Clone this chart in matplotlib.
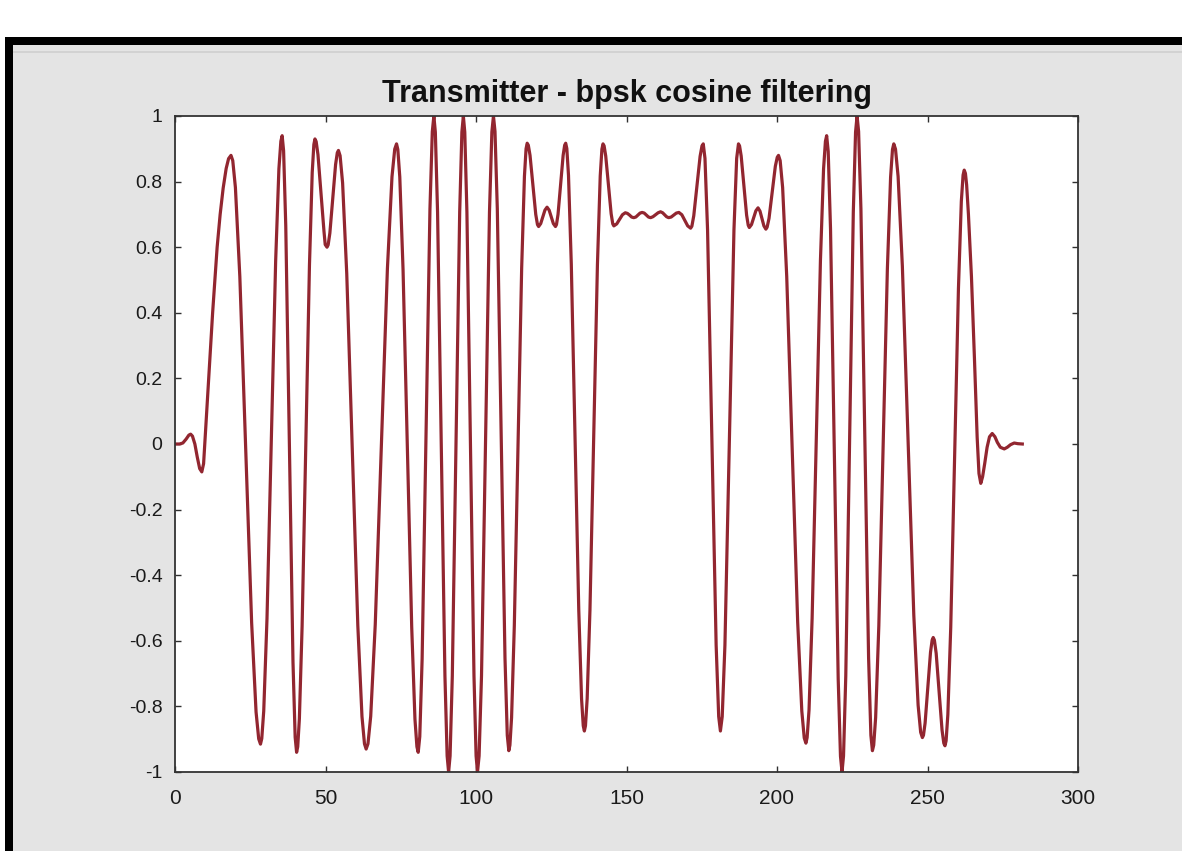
import matplotlib
matplotlib.use("Agg")
import matplotlib.pyplot as plt
from matplotlib.patches import Rectangle

# (sample index, amplitude)
curve_points = [
    (0, 0), (1.5, 0.0), (2.6, 0.003), (3.7, 0.015), (4.6, 0.027), (5.2, 0.03), (5.8, 0.024),
    (6.6, 0.0), (7.4, -0.04), (8.2, -0.075), (8.9, -0.085), (9.5, -0.06), (10.3, 0.06),
    (11.0, 0.17), (12.5, 0.40), (14.0, 0.60), (15.0, 0.70), (16.0, 0.78), (17.0, 0.84),
    (17.8, 0.87), (18.6, 0.88),
    (19.19, 0.864), (20.07, 0.782), (21.54, 0.51), (23.5, -0.018), (25.46, -0.545), (26.93, -0.817), (27.81, -0.899),
    (28.4, -0.915),
    (28.83, -0.898), (29.48, -0.814), (30.56, -0.533), (32.0, 0.013), (33.44, 0.558), (34.52, 0.839), (35.17, 0.923),
    (35.6, 0.94),
    (36.08, 0.894), (36.8, 0.665), (38.0, 0.0), (39.2, -0.665), (39.92, -0.894),
    (40.4, -0.94),
    (40.77, -0.923), (41.32, -0.838), (42.23, -0.555), (43.45, -0.005), (44.67, 0.545), (45.59, 0.828), (46.13, 0.913),
    (46.5, 0.93),
    (46.9, 0.922), (47.5, 0.882), (48.5, 0.765), (49.5, 0.648), (49.9, 0.608),
    (50.5, 0.60),
    (50.88, 0.607), (51.45, 0.643), (52.4, 0.748), (53.35, 0.852), (53.92, 0.888),
    (54.3, 0.895),
    (54.85, 0.879), (55.68, 0.796), (57.06, 0.519), (58.9, -0.018), (60.74, -0.554), (62.12, -0.831), (62.95, -0.914),
    (63.5, -0.93),
    (64.11, -0.914), (65.02, -0.83), (66.53, -0.55), (68.55, -0.008), (70.57, 0.535), (72.09, 0.815), (73.0, 0.899),
    (73.6, 0.915),
    (74.03, 0.898), (74.68, 0.814), (75.76, 0.533), (77.2, -0.013), (78.64, -0.558), (79.72, -0.839), (80.37, -0.923),
    (80.8, -0.94),
    (81.32, -0.892), (82.1, -0.656), (83.4, 0.03), (84.7, 0.716), (85.48, 0.952),
    (86.0, 1.0),
    (86.49, 0.951), (87.23, 0.707), (88.45, 0.0), (89.68, -0.707), (90.41, -0.951),
    (90.9, -1.0),
    (91.39, -0.951), (92.13, -0.707), (93.35, 0.0), (94.58, 0.707), (95.31, 0.951),
    (95.8, 1.0),
    (96.27, 0.951), (96.98, 0.707), (98.15, 0.0), (99.33, -0.707), (100.03, -0.951),
    (100.5, -1.0),
    (101.03, -0.951), (101.83, -0.707), (103.15, 0.0), (104.48, 0.707), (105.27, 0.951),
    (105.8, 1.0),
    (106.31, 0.953), (107.08, 0.717), (108.35, 0.033), (109.63, -0.652), (110.39, -0.888),
    (110.9, -0.935),
    (111.27, -0.918), (111.82, -0.834), (112.73, -0.554), (113.95, -0.009), (115.17, 0.536), (116.09, 0.816), (116.63, 0.9),
    (117.0, 0.917),
    (117.38, 0.911), (117.95, 0.88), (118.9, 0.79), (119.85, 0.70), (120.42, 0.669),
    (120.8, 0.663), (121.5, 0.672), (122.2, 0.692), (122.9, 0.713),
    (123.6, 0.722), (124.3, 0.713), (125.0, 0.692), (125.7, 0.672),
    (126.4, 0.663),
    (126.74, 0.669), (127.25, 0.70), (128.1, 0.79), (128.95, 0.88), (129.46, 0.911),
    (129.8, 0.917),
    (130.17, 0.901), (130.73, 0.819), (131.66, 0.548), (132.9, 0.021), (134.14, -0.506), (135.07, -0.777), (135.63, -0.859),
    (136.0, -0.875),
    (136.37, -0.859), (136.93, -0.777), (137.86, -0.506), (139.1, 0.02), (140.34, 0.546), (141.27, 0.817), (141.83, 0.899),
    (142.2, 0.915),
    (142.56, 0.909), (143.1, 0.878), (144.0, 0.79), (144.9, 0.702), (145.44, 0.671),
    (145.8, 0.665), (146.75, 0.671), (147.7, 0.685), (148.65, 0.699),
    (149.6, 0.705), (150.3, 0.703), (151.0, 0.698), (151.7, 0.692),
    (152.4, 0.69), (153.1, 0.692), (153.8, 0.698), (154.5, 0.704),
    (155.2, 0.706), (155.9, 0.704), (156.6, 0.698), (157.3, 0.692),
    (158.0, 0.69), (158.8, 0.693), (159.65, 0.699), (160.5, 0.705),
    (161.3, 0.708), (162.0, 0.705), (162.65, 0.699), (163.3, 0.693),
    (164.0, 0.69), (164.85, 0.692), (165.7, 0.698), (166.55, 0.704),
    (167.4, 0.706), (168.38, 0.699), (169.35, 0.682), (170.33, 0.665),
    (171.3, 0.658),
    (171.72, 0.664), (172.35, 0.696), (173.4, 0.787), (174.45, 0.877), (175.08, 0.909),
    (175.5, 0.915),
    (176.07, 0.871), (176.93, 0.653), (178.35, 0.02), (179.78, -0.613), (180.63, -0.831),
    (181.2, -0.875),
    (181.8, -0.831), (182.7, -0.613), (184.2, 0.02), (185.7, 0.653), (186.6, 0.871),
    (187.2, 0.915),
    (187.56, 0.909), (188.1, 0.878), (189.0, 0.788), (189.9, 0.698), (190.44, 0.667),
    (190.8, 0.66), (191.53, 0.669), (192.25, 0.69), (192.98, 0.711),
    (193.7, 0.72), (194.35, 0.71), (195.0, 0.688), (195.65, 0.665),
    (196.3, 0.655),
    (196.72, 0.661), (197.35, 0.688), (198.4, 0.768), (199.45, 0.847), (200.08, 0.874),
    (200.5, 0.88),
    (201.05, 0.864), (201.87, 0.782), (203.23, 0.511), (205.05, -0.016), (206.87, -0.543), (208.24, -0.814), (209.05, -0.896),
    (209.6, -0.912),
    (210.01, -0.895), (210.64, -0.811), (211.67, -0.531), (213.05, 0.014), (214.43, 0.559), (215.47, 0.839), (216.09, 0.923),
    (216.5, 0.94),
    (217.01, 0.892), (217.78, 0.656), (219.05, -0.03), (220.33, -0.716), (221.09, -0.952),
    (221.6, -1.0),
    (222.1, -0.951), (222.85, -0.707), (224.1, 0.0), (225.35, 0.707), (226.1, 0.951),
    (226.6, 1.0),
    (227.11, 0.953), (227.88, 0.717), (229.15, 0.033), (230.43, -0.652), (231.19, -0.888),
    (231.7, -0.935),
    (232.13, -0.918), (232.77, -0.834), (233.83, -0.554), (235.25, -0.01), (236.67, 0.534), (237.74, 0.814), (238.37, 0.898),
    (238.8, 0.915),
    (239.37, 0.899), (240.23, 0.816), (241.65, 0.542), (243.55, 0.01), (245.45, -0.522), (246.88, -0.796), (247.73, -0.879),
    (248.3, -0.895),
    (248.66, -0.888), (249.2, -0.851), (250.1, -0.743), (251.0, -0.635), (251.54, -0.598),
    (251.9, -0.59),
    (252.29, -0.598), (252.88, -0.638), (253.85, -0.755), (254.83, -0.872), (255.41, -0.912),
    (255.8, -0.92),
    (256.18, -0.905), (256.76, -0.825), (257.72, -0.559), (259.0, -0.043), (260.28, 0.474), (261.24, 0.74), (261.82, 0.82),
    (262.2, 0.835),
    (262.6, 0.825), (263.0, 0.79), (263.6, 0.70), (264.6, 0.51), (265.6, 0.26), (266.5, 0.02), (267.1, -0.09),
    (267.7, -0.12), (268.3, -0.10), (269.0, -0.06), (269.8, -0.01), (270.6, 0.022), (271.5, 0.032),
    (272.4, 0.022), (273.2, 0.005), (274.2, -0.01), (275.5, -0.015), (276.5, -0.01), (277.6, -0.002),
    (278.8, 0.003), (280.0, 0.001), (281.5, 0.0),
]
sample_idx = [p[0] for p in curve_points]
amplitude = [p[1] for p in curve_points]

x_ticks = [0, 50, 100, 150, 200, 250, 300]
y_ticks = [-1, -0.8, -0.6, -0.4, -0.2, 0, 0.2, 0.4, 0.6, 0.8, 1]
y_labels = ["-1", "-0.8", "-0.6", "-0.4", "-0.2", "0", "0.2", "0.4", "0.6", "0.8", "1"]

plt.rcParams["font.family"] = ["Liberation Sans", "DejaVu Sans"]

W, H = 1182, 851
fig = plt.figure(figsize=(W / 100, H / 100), dpi=100, facecolor="#e4e4e4")

# screenshot frame: white strip on top, black window border, toolbar line
fig.patches.append(Rectangle((0, 1 - 37 / H), 1, 37 / H, transform=fig.transFigure,
                             facecolor="white", edgecolor="none", zorder=0))
fig.patches.append(Rectangle((0, 0), 5 / W, 1 - 37 / H, transform=fig.transFigure,
                             facecolor="white", edgecolor="none", zorder=0))
fig.patches.append(Rectangle((5 / W, 1 - 45 / H), 1, 8 / H, transform=fig.transFigure,
                             facecolor="black", edgecolor="none", zorder=1))
fig.patches.append(Rectangle((5 / W, 0), 8 / W, 1 - 37 / H, transform=fig.transFigure,
                             facecolor="black", edgecolor="none", zorder=1))
fig.patches.append(Rectangle((13 / W, 1 - 53 / H), 1, 2 / H, transform=fig.transFigure,
                             facecolor="#d2d2d2", edgecolor="none", zorder=1))

ax = fig.add_axes([175 / W, 1 - 772 / H, 903 / W, 656 / H])
ax.set_facecolor("white")
ax.plot(sample_idx, amplitude, color="#922630", lw=2.3, solid_joinstyle="round")

ax.set_xlim(0, 300)
ax.set_ylim(-1, 1)
ax.set_xticks(x_ticks)
ax.set_yticks(y_ticks)
ax.set_yticklabels(y_labels)
ax.tick_params(direction="in", length=4.5, width=1.0, color="#303030",
               labelcolor="#1a1a1a", top=True, right=True)
ax.tick_params(axis="x", labelsize=15, pad=12)
ax.tick_params(axis="y", labelsize=14, pad=9)
for s in ax.spines.values():
    s.set_color("#333333")
    s.set_linewidth(1.3)

ax.set_title("Transmitter - bpsk cosine filtering", fontsize=22, fontweight="bold",
             color="#111111", pad=10)

fig.savefig("out.png", dpi=100, facecolor=fig.get_facecolor())
